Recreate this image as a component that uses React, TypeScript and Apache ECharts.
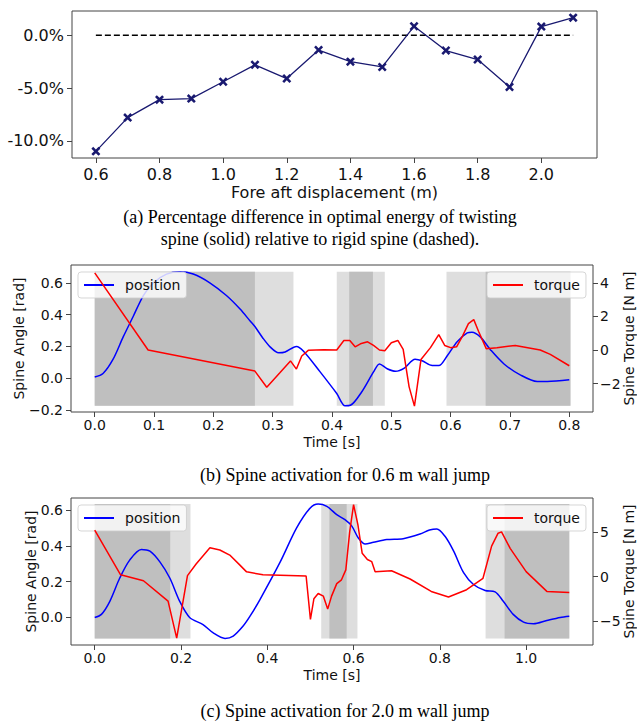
import React, { useEffect, useRef } from 'react';
import * as echarts from 'echarts';

// ---------- (a) energy difference ----------
const dispX = [0.6, 0.7, 0.8, 0.9, 1.0, 1.1, 1.2, 1.3, 1.4, 1.5, 1.6, 1.7, 1.8, 1.9, 2.0, 2.1];
const energyDiffPct = [-11.0, -7.8, -6.1, -6.0, -4.4, -2.8, -4.1, -1.4, -2.5, -3.0, 0.85, -1.45, -2.3, -4.9, 0.82, 1.67];
const rigidBaseline = [[0.6, 0], [2.1, 0]];
const aXTicks = [0.6, 0.8, 1.0, 1.2, 1.4, 1.6, 1.8, 2.0];
const aYTicks = [-10, -5, 0];

// ---------- (b) 0.6 m wall jump ----------
const bPosition = [
  [0, 0.008], [0.014, 0.03], [0.031, 0.12], [0.048, 0.26], [0.065, 0.39], [0.082, 0.52], [0.099, 0.6],
  [0.121, 0.655], [0.144, 0.67], [0.166, 0.655], [0.194, 0.6], [0.222, 0.52], [0.245, 0.435], [0.262, 0.36],
  [0.27, 0.325], [0.283, 0.255], [0.296, 0.196], [0.31, 0.16], [0.321, 0.165], [0.34, 0.2], [0.352, 0.17],
  [0.38, 0.04], [0.408, -0.096], [0.422, -0.173], [0.431, -0.17], [0.45, -0.086], [0.47, 0.04], [0.48, 0.09],
  [0.493, 0.06], [0.507, 0.044], [0.522, 0.064], [0.54, 0.12], [0.552, 0.11], [0.569, 0.08], [0.58, 0.08],
  [0.594, 0.14], [0.611, 0.23], [0.628, 0.285], [0.636, 0.29], [0.65, 0.26], [0.667, 0.18], [0.69, 0.09],
  [0.718, 0.02], [0.746, -0.02], [0.763, -0.02], [0.8, -0.01],
];
const bTorque = [
  [0, 4.6], [0.09, 0.0], [0.27, -1.26], [0.29, -2.22], [0.3125, -1.34], [0.33, -0.65], [0.34, -1.14],
  [0.349, -0.36], [0.36, -0.02], [0.386, 0.02], [0.408, 0.0], [0.42, 0.57], [0.43, 0.57], [0.439, 0.19],
  [0.448, 0.37], [0.46, 0.49], [0.47, 0.27], [0.48, 0.0], [0.489, -0.04], [0.5, 0.43], [0.511, 0.57],
  [0.52, 0.04], [0.53, -2.2], [0.539, -3.35], [0.55, -0.57], [0.566, 0.14], [0.58, 0.92], [0.59, 0.27],
  [0.6, 0.14], [0.61, 0.19], [0.62, 0.83], [0.63, 1.57], [0.639, 1.81], [0.647, 1.12], [0.66, 0.08],
  [0.678, 0.14], [0.709, 0.27], [0.751, 0.0], [0.768, -0.26], [0.8, -0.94],
];
const bLightSpans = [[0, 0.335], [0.408, 0.489], [0.593, 0.802]];
const bDarkSpans = [[0, 0.27], [0.429, 0.469], [0.659, 0.802]];
const bXTicks = [0, 0.1, 0.2, 0.3, 0.4, 0.5, 0.6, 0.7, 0.8];
const bAngleTicks = [-0.2, 0, 0.2, 0.4, 0.6];
const bTorqueTicks = [-2, 0, 2, 4];

// ---------- (c) 2.0 m wall jump ----------
const cPosition = [
  [0, 0.0], [0.0155, 0.017], [0.035, 0.09], [0.058, 0.22], [0.081, 0.32], [0.108, 0.38], [0.128, 0.37],
  [0.151, 0.31], [0.174, 0.22], [0.197, 0.09], [0.22, 0.0], [0.251, -0.04], [0.274, -0.085], [0.302, -0.117],
  [0.321, -0.104], [0.344, -0.048], [0.36, 0.007], [0.383, 0.1], [0.43, 0.31], [0.468, 0.5], [0.499, 0.61],
  [0.518, 0.633], [0.538, 0.62], [0.561, 0.574], [0.58, 0.546], [0.596, 0.51], [0.611, 0.444], [0.627, 0.41],
  [0.646, 0.42], [0.677, 0.435], [0.715, 0.44], [0.754, 0.466], [0.776, 0.488], [0.793, 0.494], [0.812, 0.453],
  [0.832, 0.37], [0.855, 0.25], [0.878, 0.184], [0.905, 0.15], [0.928, 0.143], [0.947, 0.09], [0.97, 0.017],
  [0.994, -0.026], [1.017, -0.035], [1.048, -0.017], [1.079, 0.0], [1.1, 0.007],
];
const cTorque = [
  [0, 5.19], [0.06, 0.19], [0.113, -0.48], [0.17, -2.75], [0.19, -6.9], [0.215, 0.1], [0.235, 1.4],
  [0.267, 3.22], [0.29, 2.97], [0.313, 2.4], [0.336, 1.3], [0.352, 0.52], [0.39, 0.2], [0.49, 0.06],
  [0.5, -4.8], [0.508, -2.5], [0.518, -1.9], [0.53, -2.2], [0.54, -3.65], [0.549, -2.2], [0.561, -0.8],
  [0.572, -0.37], [0.582, 0.74], [0.591, 5.0], [0.6, 8.04], [0.61, 5.8], [0.62, 2.6], [0.632, 1.9],
  [0.642, 1.67], [0.65, 0.52], [0.688, 0.65], [0.731, -0.28], [0.78, -1.67], [0.82, -2.3], [0.862, -1.48],
  [0.9, -0.2], [0.92, 3.4], [0.935, 4.85], [0.943, 5.0], [0.963, 3.15], [1.0, 0.55], [1.048, -1.67], [1.1, -1.8],
];
const cLightSpans = [[0, 0.222], [0.525, 0.609], [0.906, 1.1]];
const cDarkSpans = [[0, 0.175], [0.544, 0.584], [0.95, 1.1]];
const cXTicks = [0, 0.2, 0.4, 0.6, 0.8, 1.0];
const cAngleTicks = [0, 0.2, 0.4, 0.6];
const cTorqueTicks = [-5, 0, 5];

const FONT = '"DejaVu Sans", sans-serif';
const SERIF = '"Liberation Serif", "Times New Roman", serif';
const BOX = '#444';
const TXT = '#111';
const LIGHT = '#dedede';
const DARK = '#bfbfbf';

const minus = (s: string) => s.replace('-', '\u2212');

function xAxisDef(gridIndex: number, min: number, max: number, ticks: number[], fmt: (v: number) => string,
  name: string, fontSize: number, margin: number, nameGap: number) {
  return {
    type: 'value', gridIndex, min, max, name, nameLocation: 'middle', nameGap, nameMoveOverlap: false,
    nameTextStyle: { fontFamily: FONT, fontSize, color: TXT },
    axisLine: { show: false, onZero: false },
    axisTick: { show: true, inside: false, length: 5, customValues: ticks, lineStyle: { color: BOX, width: 1 } },
    axisLabel: { customValues: ticks, formatter: fmt, fontFamily: FONT, fontSize, color: TXT, margin },
    splitLine: { show: false },
  };
}

function yAxisDef(gridIndex: number, position: string, min: number, max: number, ticks: number[],
  fmt: (v: number) => string, name: string, fontSize: number, margin: number, nameGap: number) {
  return {
    type: 'value', gridIndex, position, min, max, name, nameLocation: 'middle', nameGap, nameRotate: 90,
    nameMoveOverlap: false,
    nameTextStyle: { fontFamily: FONT, fontSize, color: TXT },
    axisLine: { show: false, onZero: false },
    axisTick: { show: true, inside: false, length: 5, customValues: ticks, lineStyle: { color: BOX, width: 1 } },
    axisLabel: { customValues: ticks, formatter: fmt, fontFamily: FONT, fontSize, color: TXT, margin },
    splitLine: { show: false },
  };
}

function shadeSeries(xi: number, yi: number, pts: number[][], light: number[][], dark: number[][]) {
  const ys = pts.map((p) => p[1]);
  const lo = Math.min(...ys);
  const hi = Math.max(...ys);
  const mk = (spans: number[][], color: string) =>
    spans.map(([a, b]) => [{ xAxis: a, yAxis: lo, itemStyle: { color, opacity: 1 } }, { xAxis: b, yAxis: hi }]);
  return {
    type: 'line', name: 'shade' + xi, xAxisIndex: xi, yAxisIndex: yi, data: pts, symbol: 'none',
    lineStyle: { opacity: 0 }, silent: true, z: 1,
    markArea: { silent: true, data: [...mk(light, LIGHT), ...mk(dark, DARK)] },
  };
}

function legendDef(name: string, color: string, left: number, top: number) {
  return {
    data: [{ name, icon: 'rect', itemStyle: { color } }], left, top, orient: 'horizontal', selectedMode: false,
    itemWidth: 30, itemHeight: 2, padding: [6, 6, 6, 6],
    backgroundColor: 'rgba(255,255,255,0.8)', borderColor: 'rgba(204,204,204,0.8)', borderWidth: 1, borderRadius: 3,
    textStyle: { fontFamily: FONT, fontSize: 14, color: TXT, padding: [0, 0, 0, 6], lineHeight: 14 },
  };
}

const X_PATH = 'path://M0,2 L2,0 L5,3 L8,0 L10,2 L7,5 L10,8 L8,10 L5,7 L2,10 L0,8 L3,5 Z';

function gridDef(left: number, top: number, width: number, height: number) {
  return {
    left, top, width, height, show: true, borderColor: BOX, borderWidth: 1, backgroundColor: 'transparent',
    containLabel: false, outerBoundsMode: 'none',
  };
}

function buildOption() {
  const fmt1 = (v: number) => minus(v.toFixed(1));
  const fmtInt = (v: number) => minus(String(Math.round(v)));
  const cap = (text: string, x: number, y: number) => ({
    type: 'text', x, y,
    style: { text, font: `18px ${SERIF}`, fill: '#000', align: 'center', verticalAlign: 'middle' },
  });
  return {
    animation: false,
    backgroundColor: '#ffffff',
    grid: [
      gridDef(72, 11, 525, 147),
      gridDef(71, 265, 522, 147),
      gridDef(71, 498, 522, 147),
    ],
    xAxis: [
      xAxisDef(0, 0.525, 2.175, aXTicks, (v) => v.toFixed(1), 'Fore aft displacement (m)', 16, 8, 26),
      xAxisDef(1, -0.04, 0.84, bXTicks, fmt1, 'Time [s]', 14, 6, 23),
      xAxisDef(2, -0.055, 1.155, cXTicks, fmt1, 'Time [s]', 14, 6, 23),
    ],
    yAxis: [
      yAxisDef(0, 'left', -11.63, 2.3, aYTicks, (v) => v.toFixed(1) + '%', '', 16, 8, 40),
      yAxisDef(1, 'left', -0.212, 0.712, bAngleTicks, fmt1, 'Spine Angle [rad]', 14, 8, 45),
      yAxisDef(1, 'right', -3.7, 5.07, bTorqueTicks, fmtInt, 'Spine Torque [N m]', 14, 7, 29),
      yAxisDef(2, 'left', -0.154, 0.667, cAngleTicks, fmt1, 'Spine Angle [rad]', 14, 8, 33),
      yAxisDef(2, 'right', -7.67, 8.79, cTorqueTicks, fmtInt, 'Spine Torque [N m]', 14, 7, 29),
    ],
    legend: [
      legendDef('position', '#0000ff', 78, 272),
      legendDef('torque', '#ff0000', 487, 272),
      legendDef('position', '#0000ff', 78, 505),
      legendDef('torque', '#ff0000', 487, 505),
    ],
    series: [
      {
        type: 'line', name: 'rigid', xAxisIndex: 0, yAxisIndex: 0, data: rigidBaseline, symbol: 'none',
        lineStyle: { color: '#000', width: 1.3, type: [6, 3] }, z: 2, silent: true,
      },
      {
        type: 'line', name: 'twisting', xAxisIndex: 0, yAxisIndex: 0,
        data: dispX.map((x, i) => [x, energyDiffPct[i]]),
        symbol: X_PATH, symbolSize: 9, showSymbol: true,
        itemStyle: { color: '#191970' }, lineStyle: { color: '#191970', width: 1.3 }, z: 3,
      },
      shadeSeries(1, 1, bPosition, bLightSpans, bDarkSpans),
      {
        type: 'line', name: 'position', xAxisIndex: 1, yAxisIndex: 1, data: bPosition, symbol: 'none', smooth: 0.3,
        lineStyle: { color: '#0000ff', width: 1.5 }, itemStyle: { color: '#0000ff' }, z: 3,
      },
      {
        type: 'line', name: 'torque', xAxisIndex: 1, yAxisIndex: 2, data: bTorque, symbol: 'none',
        lineStyle: { color: '#ff0000', width: 1.5 }, itemStyle: { color: '#ff0000' }, z: 4,
      },
      shadeSeries(2, 3, cPosition, cLightSpans, cDarkSpans),
      {
        type: 'line', name: 'position', xAxisIndex: 2, yAxisIndex: 3, data: cPosition, symbol: 'none', smooth: 0.3,
        lineStyle: { color: '#0000ff', width: 1.5 }, itemStyle: { color: '#0000ff' }, z: 3,
      },
      {
        type: 'line', name: 'torque', xAxisIndex: 2, yAxisIndex: 4, data: cTorque, symbol: 'none',
        lineStyle: { color: '#ff0000', width: 1.5 }, itemStyle: { color: '#ff0000' }, z: 4,
      },
    ],
    graphic: [
      cap('(a) Percentage difference in optimal energy of twisting', 320, 217),
      cap('spine (solid) relative to rigid spine (dashed).', 320, 239),
      cap('(b) Spine activation for 0.6 m wall jump', 345, 475),
      cap('(c) Spine activation for 2.0 m wall jump', 345, 711),
    ],
  };
}

export default function App() {
  const ref = useRef<HTMLDivElement>(null);
  useEffect(() => {
    if (!ref.current) return;
    const chart = echarts.init(ref.current, null, { renderer: 'svg' });
    chart.setOption(buildOption() as any);
    return () => chart.dispose();
  }, []);
  return (
    <div
      ref={ref}
      style={{ position: 'fixed', left: 0, top: 0, width: 637, height: 721, background: '#fff' }}
    />
  );
}
